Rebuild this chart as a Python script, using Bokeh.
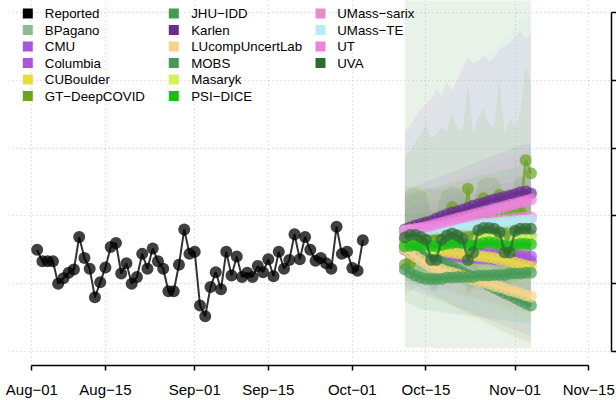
import pandas as pd
from bokeh.plotting import figure
from bokeh.models import Range1d, FixedTicker, Label, BoxAnnotation
from bokeh.embed import file_html
from bokeh.resources import INLINE

FONT = "Liberation Sans"

# ---------------- data ----------------
report_start = "2020-08-02"
reported = [150, 133, 133, 133, 100, 108, 116, 121, 169, 138,
            122, 80, 102, 124, 154, 160, 115, 130, 100, 110,
            144, 122, 152, 133, 122, 89, 89, 128, 180, 144,
            147, 68, 52, 95, 117, 92, 147, 112, 140, 110,
            116, 110, 126, 117, 136, 111, 147, 122, 135, 173,
            136, 169, 150, 134, 138, 130, 122, 184, 144, 147,
            123, 119, 164]

forecast_start = "2020-10-11"
forecast_days = 25

models = ["BPagano", "CMU", "Columbia", "CUBoulder", "GT-DeepCOVID", "JHU-IDD",
          "Karlen", "LUcompUncertLab", "MOBS", "Masaryk", "PSI-DICE",
          "UMass-sarix", "UMass-TE", "UT", "UVA"]
model_colors = ["#8FBC8F", "#A855D8", "#A855D8", "#E6DA46", "#6BA31F", "#469A55",
                "#6B2C91", "#F7D48C", "#469A55", "#D4F05A", "#16BE16",
                "#E88BC9", "#B4EEF4", "#EE82DD", "#2E6A33"]

bpagano_med = [163, 164, 164, 165, 165, 165, 166, 166, 166, 167, 167, 167, 168, 168, 168, 169, 169, 169, 170, 170, 170, 171, 171, 171, 172]
bpagano_lo = [6, 6, 6, 6, 6, 6, 5, 5, 5, 5, 5, 5, 5, 5, 5, 5, 5, 5, 5, 5, 5, 5, 5, 5, 5]
bpagano_hi = [800, 800, 800, 800, 800, 800, 800, 800, 800, 800, 800, 800, 800, 800, 800, 800, 800, 800, 800, 800, 800, 800, 800, 800, 800]

cmu_med = [152, 151, 151, 150, 150, 149, 149, 148, 148, 147, 147, 146, 146, 145, 145, 144, 144, 143, 143, 142, 142, 141, 141, 140, 140]
cmu_lo = [105, 103, 101, 99, 97, 95, 93, 91, 89, 87, 85, 83, 81, 79, 77, 75, 73, 71, 69, 67, 65, 63, 61, 59, 57]
cmu_hi = [324, 334, 346, 356, 365, 372, 388, 378, 397, 385, 400, 418, 434, 425, 429, 437, 428, 432, 444, 451, 456, 463, 474, 460, 468]

columbia_med = [150, 149, 148, 147, 146, 145, 144, 143, 142, 141, 140, 139, 139, 138, 138, 137, 137, 136, 136, 135, 135, 134, 134, 134, 133]
columbia_lo = [95, 92, 89, 86, 83, 80, 77, 74, 71, 68, 65, 62, 59, 56, 53, 50, 47, 44, 41, 38, 35, 32, 29, 26, 23]
columbia_hi = [210, 212, 214, 216, 218, 220, 222, 224, 226, 228, 230, 232, 234, 236, 238, 240, 242, 244, 246, 248, 250, 252, 254, 256, 258]

cuboulder_med = [153, 152, 152, 151, 151, 150, 149, 148, 147, 146, 145, 144, 143, 142, 141, 140, 139, 138, 136, 135, 133, 131, 129, 127, 125]
cuboulder_lo = [118, 115, 112, 109, 106, 103, 100, 97, 94, 91, 88, 85, 82, 79, 76, 73, 70, 67, 64, 61, 58, 55, 52, 49, 46]
cuboulder_hi = [190, 191, 192, 193, 194, 195, 196, 197, 198, 199, 200, 201, 202, 203, 204, 205, 206, 207, 208, 209, 210, 211, 212, 213, 214]

gt_med = [128, 131, 157, 172, 191, 168, 176, 187, 182, 213, 185, 179, 240, 172, 206, 226, 187, 179, 231, 171, 204, 182, 206, 282, 263]
gt_lo = [85, 88, 95, 100, 110, 98, 100, 105, 103, 118, 104, 100, 130, 98, 112, 120, 104, 100, 125, 96, 110, 100, 112, 150, 140]
gt_hi = [290, 295, 310, 320, 335, 315, 320, 330, 325, 350, 330, 325, 393, 320, 345, 360, 335, 330, 400, 320, 345, 330, 350, 419, 395]

jhu_med = [159, 155, 151, 148, 144, 140, 136, 132, 128, 125, 121, 117, 113, 109, 105, 102, 98, 94, 90, 86, 83, 79, 75, 71, 68]
jhu_lo = [105, 101, 97, 93, 89, 85, 81, 77, 73, 69, 65, 61, 57, 53, 49, 45, 41, 37, 33, 29, 25, 22, 19, 16, 13]
jhu_hi = [245, 244, 243, 242, 241, 240, 239, 238, 237, 236, 235, 234, 233, 232, 231, 230, 229, 228, 227, 226, 225, 224, 223, 222, 221]

karlen_med = [180, 183, 186, 188, 190, 192, 196, 199, 202, 205, 207, 209, 212, 215, 217, 219, 222, 224, 226, 228, 230, 232, 235, 236, 233]
karlen_lo = [125, 127, 129, 131, 133, 135, 137, 139, 141, 143, 145, 147, 149, 151, 153, 155, 157, 159, 161, 163, 165, 167, 169, 171, 170]
karlen_hi = [238, 241, 244, 247, 250, 253, 256, 259, 262, 265, 268, 271, 274, 277, 280, 283, 286, 289, 292, 295, 298, 301, 304, 307, 305]

lucomp_med = [151, 145, 140, 135, 130, 125, 123, 121, 118, 116, 114, 111, 109, 107, 104, 102, 100, 97, 95, 93, 90, 88, 86, 83, 81]
lucomp_lo = [100, 96, 92, 88, 84, 80, 76, 72, 68, 64, 60, 56, 52, 48, 44, 40, 36, 32, 28, 24, 20, 17, 14, 11, 8]
lucomp_hi = [200, 198, 196, 194, 192, 190, 188, 186, 184, 182, 180, 178, 176, 174, 172, 170, 168, 166, 164, 162, 160, 158, 156, 154, 152]

mobs_med = [121, 116, 112, 109, 107, 107, 107, 107, 109, 109, 110, 110, 110, 110, 112, 112, 112, 113, 113, 113, 115, 115, 115, 116, 116]
mobs_lo = [75, 70, 66, 63, 61, 60, 59, 58, 57, 56, 55, 54, 53, 52, 51, 50, 49, 48, 47, 46, 45, 44, 43, 42, 41]
mobs_hi = [205, 204, 204, 205, 206, 208, 210, 212, 214, 216, 218, 220, 222, 224, 226, 228, 230, 232, 234, 236, 238, 240, 242, 244, 246]

masaryk_med = [160, 163, 164, 163, 160, 152, 150, 160, 165, 167, 166, 163, 152, 150, 165, 167, 167, 166, 163, 152, 150, 164, 166, 166, 165]
masaryk_lo = [115, 116, 116, 114, 110, 100, 98, 108, 112, 113, 111, 108, 96, 94, 106, 108, 107, 105, 102, 90, 88, 100, 101, 100, 98]
masaryk_hi = [240, 244, 246, 245, 242, 230, 228, 243, 250, 253, 253, 250, 235, 233, 254, 258, 259, 258, 255, 240, 238, 258, 262, 263, 263]

psi_med = [155, 156, 157, 158, 158, 156, 155, 157, 159, 160, 161, 160, 157, 156, 158, 160, 161, 160, 158, 156, 155, 157, 159, 159, 158]
psi_lo = [120, 118, 116, 114, 112, 110, 108, 106, 104, 102, 100, 98, 96, 94, 92, 90, 88, 86, 84, 82, 80, 78, 76, 74, 72]
psi_hi = [230, 232, 234, 236, 238, 240, 242, 244, 246, 248, 250, 252, 254, 256, 258, 260, 262, 264, 266, 268, 270, 272, 274, 276, 278]

sarix_med = [179, 180, 181, 181, 182, 183, 184, 185, 185, 186, 187, 188, 189, 189, 190, 191, 192, 193, 193, 194, 195, 196, 197, 197, 198]
sarix_lo = [130, 128, 126, 124, 122, 120, 118, 116, 114, 112, 110, 108, 106, 104, 102, 100, 98, 96, 94, 92, 90, 88, 86, 84, 82]
sarix_hi = [222, 224, 226, 228, 230, 232, 234, 236, 238, 240, 242, 244, 246, 248, 250, 252, 254, 256, 258, 260, 262, 264, 266, 268, 270]

te_med = [177, 178, 178, 179, 180, 180, 181, 182, 183, 183, 184, 185, 186, 186, 187, 188, 188, 189, 190, 191, 191, 192, 193, 193, 194]
te_lo = [95, 93, 90, 88, 85, 83, 80, 78, 75, 73, 70, 68, 65, 63, 60, 58, 55, 53, 50, 48, 45, 43, 40, 38, 35]
te_hi = [312, 320, 328, 336, 344, 352, 360, 368, 376, 384, 392, 400, 408, 416, 424, 432, 440, 448, 456, 464, 472, 480, 488, 494, 500]

ut_med = [176, 178, 180, 182, 184, 186, 188, 190, 192, 194, 196, 198, 200, 202, 204, 206, 208, 210, 212, 214, 216, 218, 220, 222, 224]
ut_lo = [125, 126, 127, 128, 129, 130, 131, 132, 133, 134, 135, 136, 137, 138, 139, 140, 141, 142, 143, 144, 145, 146, 147, 148, 149]
ut_hi = [226, 229, 232, 235, 238, 241, 244, 247, 250, 253, 256, 259, 262, 265, 268, 271, 274, 277, 280, 283, 286, 289, 292, 295, 298]

uva_med = [168, 172, 172, 169, 165, 135, 135, 165, 171, 174, 171, 166, 135, 146, 179, 182, 182, 181, 176, 146, 146, 178, 181, 181, 181]
uva_lo = [120, 124, 123, 120, 116, 90, 88, 116, 121, 123, 120, 115, 85, 94, 126, 128, 127, 125, 120, 92, 91, 123, 125, 124, 123]
uva_hi = [235, 240, 241, 238, 234, 205, 204, 234, 240, 244, 241, 236, 206, 215, 252, 256, 257, 256, 251, 220, 220, 254, 258, 259, 260]

x_tick_dates = ["2020-08-01", "2020-08-15", "2020-09-01", "2020-09-15",
                "2020-10-01", "2020-10-15", "2020-11-01", "2020-11-15"]
x_tick_labels = ["Aug\u221201", "Aug\u221215", "Sep\u221201", "Sep\u221215",
                 "Oct\u221201", "Oct\u221215", "Nov\u221201", "Nov\u221215"]
y_ticks = [0, 100, 200, 300, 400, 500]

legend_columns = [
    ["Reported", "BPagano", "CMU", "Columbia", "CUBoulder", "GT-DeepCOVID"],
    ["JHU-IDD", "Karlen", "LUcompUncertLab", "MOBS", "Masaryk", "PSI-DICE"],
    ["UMass-sarix", "UMass-TE", "UT", "UVA"],
]

series = {
    "BPagano": (bpagano_med, bpagano_lo, bpagano_hi),
    "CMU": (cmu_med, cmu_lo, cmu_hi),
    "Columbia": (columbia_med, columbia_lo, columbia_hi),
    "CUBoulder": (cuboulder_med, cuboulder_lo, cuboulder_hi),
    "GT-DeepCOVID": (gt_med, gt_lo, gt_hi),
    "JHU-IDD": (jhu_med, jhu_lo, jhu_hi),
    "Karlen": (karlen_med, karlen_lo, karlen_hi),
    "LUcompUncertLab": (lucomp_med, lucomp_lo, lucomp_hi),
    "MOBS": (mobs_med, mobs_lo, mobs_hi),
    "Masaryk": (masaryk_med, masaryk_lo, masaryk_hi),
    "PSI-DICE": (psi_med, psi_lo, psi_hi),
    "UMass-sarix": (sarix_med, sarix_lo, sarix_hi),
    "UMass-TE": (te_med, te_lo, te_hi),
    "UT": (ut_med, ut_lo, ut_hi),
    "UVA": (uva_med, uva_lo, uva_hi),
}
color_of = dict(zip(models, model_colors))
color_of["Reported"] = "#000000"


def to_ms(d):
    return pd.Timestamp(d).value / 1e6


DAY = 86400000.0
rep_x = [to_ms(d) for d in pd.date_range(report_start, periods=len(reported), freq="D")]
fc_x = [to_ms(d) for d in pd.date_range(forecast_start, periods=forecast_days, freq="D")]
xt = [to_ms(d) for d in x_tick_dates]

# ---------------- figure ----------------
x_lo = xt[0] - 4.455 * DAY
x_hi = xt[0] + 110.34 * DAY
p = figure(width=616, height=400, x_axis_type="datetime",
           x_range=Range1d(x_lo, x_hi), y_range=Range1d(-20.6, 517.6),
           y_axis_location="right", output_backend="svg", toolbar_location=None,
           min_border_left=8, min_border_right=5, min_border_top=0, min_border_bottom=34)
p.outline_line_color = None
p.background_fill_color = "white"
p.border_fill_color = "white"

# grids
p.xgrid.ticker = FixedTicker(ticks=xt)
p.ygrid.ticker = FixedTicker(ticks=y_ticks)
for g in (p.xgrid, p.ygrid):
    g.grid_line_color = "#c8c8c8"
    g.grid_line_dash = "1 3"
    g.grid_line_width = 1

# bands
band_alpha = {"BPagano": 0.2, "Karlen": 0.07, "UT": 0.08, "UMass-sarix": 0.08}
for m in models:
    med, lo, hi = series[m]
    p.varea(x=fc_x, y1=lo, y2=hi, fill_color=color_of[m],
            fill_alpha=band_alpha.get(m, 0.1))

# medians
for m in models:
    med, lo, hi = series[m]
    p.line(fc_x, med, line_color=color_of[m], line_width=2.5, line_alpha=0.75)
    p.scatter(fc_x, med, size=12, fill_color=color_of[m], fill_alpha=0.7, line_color=None)

# reported
p.line(rep_x, reported, line_color="black", line_width=2, line_alpha=0.8)
p.scatter(rep_x, reported, size=12, fill_color="black", fill_alpha=0.75, line_color=None)

# x axis
xa = p.xaxis[0]
xa.ticker = FixedTicker(ticks=xt)
xa.major_label_overrides = {t: l for t, l in zip(xt, x_tick_labels)}
xa.bounds = (xt[0], xt[-1])
xa.axis_line_width = 1.5
xa.major_tick_line_width = 1.5
xa.major_tick_out = 5
xa.major_tick_in = 0
xa.minor_tick_line_color = None
xa.major_label_text_font = FONT
xa.major_label_text_font_size = "15px"
xa.major_label_text_color = "#000000"
xa.major_label_standoff = 10

# y axis (labels fall outside the window in the original)
ya = p.yaxis[0]
ya.ticker = FixedTicker(ticks=y_ticks)
ya.bounds = (0, 500)
ya.major_label_overrides = {t: "" for t in y_ticks}
ya.major_label_text_font_size = "0px"
ya.major_label_standoff = 0
ya.axis_line_width = 1.5
ya.major_tick_line_width = 1.5
ya.major_tick_out = 5
ya.major_tick_in = 0
ya.minor_tick_line_color = None

# legend
swatch_left = [22.3, 168.3, 315.0]
text_left = [44.3, 190.7, 336.7]
row0, pitch = 14.0, 16.5
for c, names in enumerate(legend_columns):
    for r, name in enumerate(names):
        yc = 366 - (row0 + pitch * r)
        sx = swatch_left[c] - 8
        p.add_layout(BoxAnnotation(left=sx, right=sx + 10, bottom=yc - 5, top=yc + 5,
                                   left_units="screen", right_units="screen",
                                   top_units="screen", bottom_units="screen",
                                   fill_color=color_of[name], fill_alpha=1.0,
                                   line_color=None))
        p.add_layout(Label(x=text_left[c] - 8, y=yc, x_units="screen", y_units="screen",
                           text=name.replace("-", "\u2212"), text_font=FONT,
                           text_font_size="13.3px", text_baseline="middle",
                           text_align="left", text_color="#000000"))

open("out.html", "w").write(file_html(p, INLINE))
